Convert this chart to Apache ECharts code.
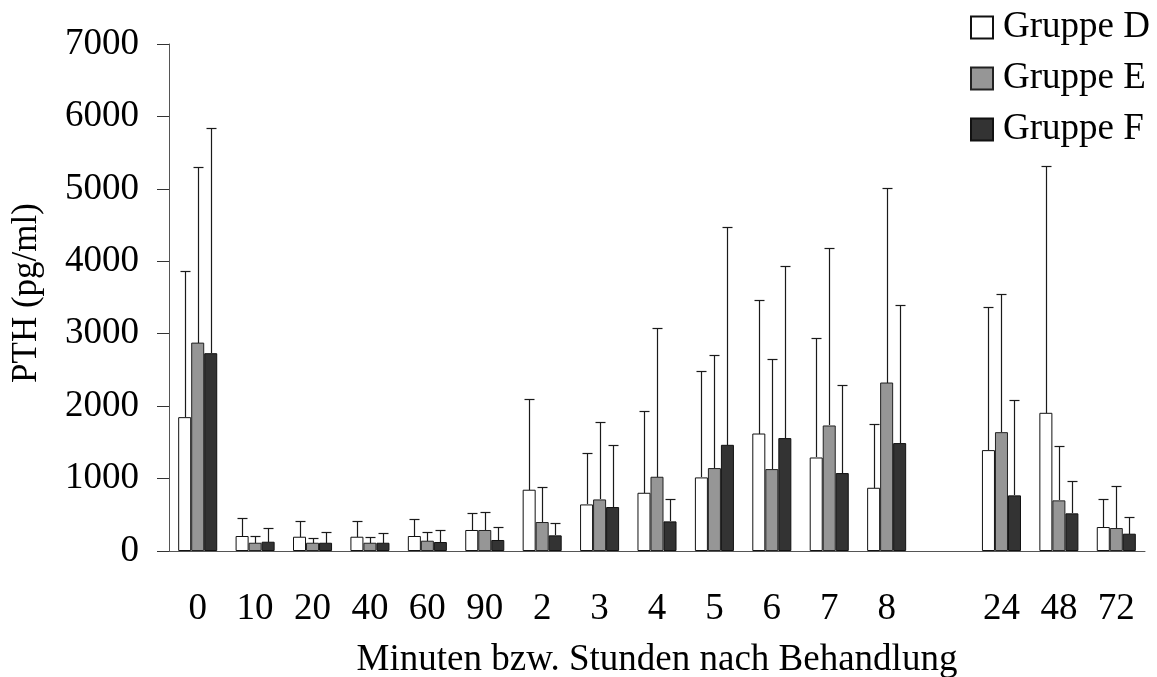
<!DOCTYPE html>
<html>
<head>
<meta charset="utf-8">
<script src="https://cdn.jsdelivr.net/npm/echarts@6/dist/echarts.min.js"></script>
<style>
html,body{margin:0;padding:0;background:#fff;}
#chart{width:1157px;height:677px;}
</style>
</head>
<body>
<div id="chart"></div>
<script>
var categories = ['0','10','20','40','60','90','2','3','4','5','6','7','8','','24','48','72'];
var seriesNames = ['Gruppe D','Gruppe E','Gruppe F'];
var valuesD = [1848, 207, 197, 197, 207, 290, 846, 643, 804, 1016, 1622, 1291, 873, null, 1393, 1908, 331];
var upperD  = [3866, 459, 418, 418, 441, 524, 2097, 1356, 1931, 2487, 3462, 2938, 1760, null, 3366, 5310, 717];
var valuesE = [2877, 114, 114, 114, 142, 290, 400, 712, 1025, 1145, 1131, 1733, 2326, null, 1641, 699, 317];
var upperE  = [5297, 207, 183, 197, 262, 532, 878, 1783, 3084, 2703, 2652, 4183, 5011, null, 3549, 1443, 892];
var valuesF = [2731, 128, 114, 114, 124, 152, 216, 607, 409, 1466, 1559, 1076, 1490, null, 768, 520, 239];
var upperF  = [5834, 312, 262, 248, 284, 331, 381, 1466, 717, 4477, 3939, 2286, 3397, null, 2079, 970, 463];
var yTicks = [0, 1000, 2000, 3000, 4000, 5000, 6000, 7000];

var FONT = 'Liberation Serif, Times New Roman, serif';
var FS = 37;
var colors = ['#ffffff', '#969696', '#333333'];
var CAT_GAP = 0.32;
var allValues = [valuesD, valuesE, valuesF];
var allUpper = [upperD, upperE, upperF];

function errData(vals, ups) {
  var out = [];
  for (var i = 0; i < vals.length; i++) {
    if (vals[i] == null) continue;
    out.push([i, vals[i], ups[i]]);
  }
  return out;
}

function makeErr(sIdx) {
  return {
    type: 'custom',
    name: seriesNames[sIdx] + ' err',
    z: 5,
    silent: true,
    data: errData(allValues[sIdx], allUpper[sIdx]),
    encode: { x: 0, y: [1, 2] },
    renderItem: function (params, api) {
      var idx = api.value(0);
      var lo = api.coord([idx, api.value(1)]);
      var hi = api.coord([idx, api.value(2)]);
      var band = api.size([1, 0])[0];
      var groupW = band * (1 - CAT_GAP);
      var barW = groupW / 3;
      var x = Math.round(lo[0] - groupW / 2 + barW * (sIdx + 0.5)) + 0.5;
      var capHalf = 5;
      var yl = Math.round(lo[1]);
      var yh = Math.round(hi[1]) + 0.5;
      var st = { stroke: '#1a1a1a', lineWidth: 1.2 };
      return {
        type: 'group',
        children: [
          { type: 'line', shape: { x1: x, y1: yl, x2: x, y2: yh }, style: st },
          { type: 'line', shape: { x1: x - capHalf, y1: yh, x2: x + capHalf, y2: yh }, style: st }
        ]
      };
    }
  };
}

var chart = echarts.init(document.getElementById('chart'), null, { renderer: 'canvas' });
var option = {
  animation: false,
  backgroundColor: '#ffffff',
  textStyle: { fontFamily: FONT },
  grid: { left: 169, right: 12, top: 44, bottom: 126, containLabel: false, outerBoundsMode: 'none' },
  legend: {
    orient: 'vertical',
    left: 970,
    top: 9,
    padding: 0,
    itemWidth: 22,
    itemHeight: 22,
    itemGap: 14,
    data: seriesNames,
    textStyle: { fontFamily: FONT, fontSize: FS, color: '#000', padding: [0, 0, 0, 5] },
    icon: 'rect'
  },
  xAxis: {
    type: 'category',
    data: categories,
    name: 'Minuten bzw. Stunden nach Behandlung',
    nameLocation: 'middle',
    nameGap: 91,
    nameTextStyle: { fontFamily: FONT, fontSize: FS, color: '#000' },
    axisLine: { show: true, lineStyle: { color: '#555', width: 1 } },
    axisTick: { show: false },
    axisLabel: { fontFamily: FONT, fontSize: FS, color: '#000', margin: 40, interval: 0 },
    splitLine: { show: false }
  },
  yAxis: {
    type: 'value',
    min: 0,
    max: 7000,
    interval: 1000,
    name: 'PTH (pg/ml)',
    nameLocation: 'middle',
    nameGap: 125,
    nameRotate: 90,
    nameTextStyle: { fontFamily: FONT, fontSize: 35, color: '#000', padding: [0, 0, 0, 9] },
    axisLine: { show: true, lineStyle: { color: '#555', width: 1 } },
    axisTick: { show: true, inside: false, length: 12, lineStyle: { color: '#333', width: 1 } },
    axisLabel: {
      fontFamily: FONT, fontSize: FS, color: '#000', margin: 30,
      formatter: function (v) { return yTicks.indexOf(v) >= 0 ? String(v) : ''; }
    },
    splitLine: { show: false }
  },
  series: [
    {
      type: 'bar', name: seriesNames[0], data: valuesD,
      barGap: '0%', barCategoryGap: (CAT_GAP * 100) + '%',
      itemStyle: { color: colors[0], borderColor: '#111', borderWidth: 1 }
    },
    {
      type: 'bar', name: seriesNames[1], data: valuesE,
      barGap: '0%', barCategoryGap: (CAT_GAP * 100) + '%',
      itemStyle: { color: colors[1], borderColor: '#222', borderWidth: 1 }
    },
    {
      type: 'bar', name: seriesNames[2], data: valuesF,
      barGap: '0%', barCategoryGap: (CAT_GAP * 100) + '%',
      itemStyle: { color: colors[2], borderColor: '#111', borderWidth: 1 }
    },
    makeErr(0), makeErr(1), makeErr(2)
  ]
};
chart.setOption(option);
</script>
</body>
</html>
